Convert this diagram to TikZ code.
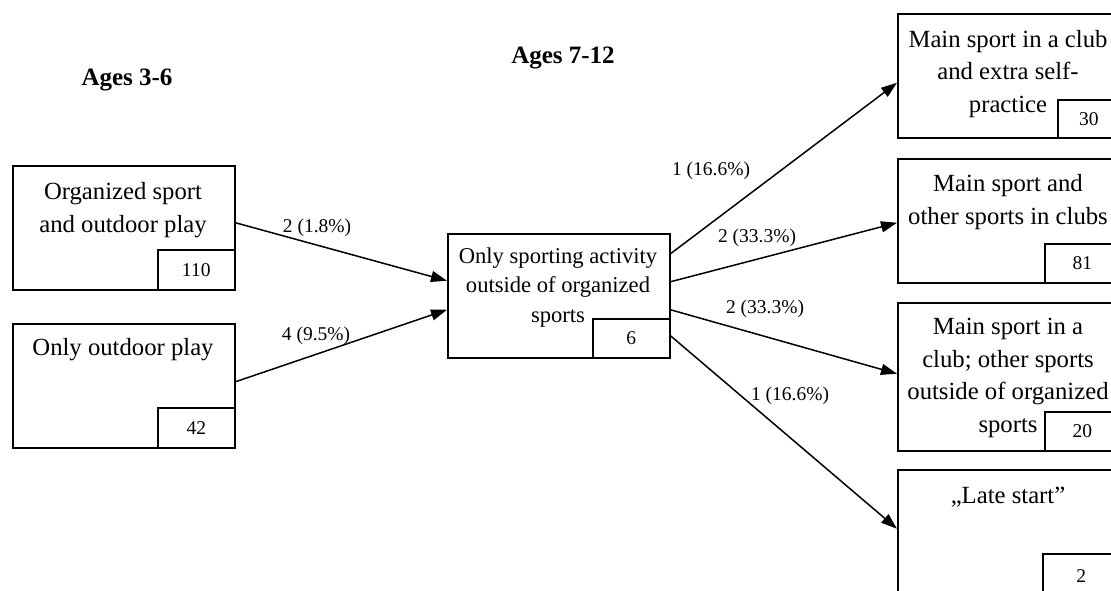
\documentclass[tikz,border=0pt]{standalone}
\usepackage{fontspec}
\setmainfont{Liberation Serif}
\usetikzlibrary{arrows.meta,calc}
\begin{document}
\begin{tikzpicture}[x=1pt,y=-1pt,
  box/.style={draw, line width=1.5pt, inner sep=0pt, anchor=north west, minimum width=222pt, minimum height=124pt},
  numbox/.style={draw, line width=1.5pt, inner sep=0pt, anchor=north west, font=\fontsize{19.5}{22}\selectfont},
  bigtxt/.style={align=center, anchor=base, inner sep=0pt, font=\fontsize{24.7}{32.5}\selectfont},
  midtxt/.style={align=center, anchor=base, inner sep=0pt, font=\fontsize{22.6}{29.5}\selectfont},
  lbl/.style={anchor=base, inner sep=0pt, font=\fontsize{19.5}{22}\selectfont},
  ttl/.style={anchor=base, inner sep=0pt, font=\bfseries\fontsize{25}{28}\selectfont},
  conn/.style={line width=1.5pt, -{Triangle[length=16pt,width=11pt]}}
]
\useasboundingbox (0,0) rectangle (1111,590);
\clip (0,0) rectangle (1111,590);

% titles
\node[ttl] (t1) at (127,85) {Ages 3-6};
\node[ttl] (t2) at (563,63) {Ages 7-12};

% left boxes
\node[box] (A) at (12,165) {};
\node[numbox, minimum width=77pt, minimum height=40pt] (An) at (157,249) {110};
\node[bigtxt] (At) at (123,232) {Organized sport\\and outdoor play};

\node[box] (B) at (12,323) {};
\node[numbox, minimum width=77pt, minimum height=40pt] (Bn) at (157,407) {42};
\node[bigtxt] (Bt) at (123,355) {Only outdoor play};

% center box
\node[box] (C) at (447,233) {};
\node[numbox, minimum width=77pt, minimum height=39pt] (Cn) at (592,318) {6};
\node[midtxt] (Ct) at (558,322) {Only sporting activity\\outside of organized\\sports};

% right boxes
\node[box] (R1) at (897,13) {};
\node[numbox, minimum width=62pt, minimum height=38pt] (R1n) at (1057,99) {30};
\node[bigtxt] (R1t) at (1008,112) {Main sport in a club\\and extra self-\\practice};

\node[box] (R2) at (897,158) {};
\node[numbox, minimum width=75pt, minimum height=39pt] (R2n) at (1044,243) {81};
\node[bigtxt] (R2t) at (1008,224) {Main sport and\\other sports in clubs};

\node[box, minimum height=148pt] (R3) at (897,302) {};
\node[numbox, minimum width=75pt, minimum height=39pt] (R3n) at (1044,411) {20};
\node[bigtxt] (R3t) at (1008,432) {Main sport in a\\club; other sports\\outside of organized\\sports};

\node[box] (R4) at (897,469) {};
\node[numbox, minimum width=77pt, minimum height=44pt] (R4n) at (1042,553) {2};
\node[bigtxt] (R4t) at (1008,503) {„Late start”};

% connectors
\draw[conn] ([yshift=5pt]A.east) -- ([yshift=15pt]C.west);
\draw[conn] ([yshift=4pt]B.east) -- ([yshift=-14pt]C.west);
\draw[conn] ([yshift=42pt]C.east) -- ([yshift=-7pt]R1.west);
\draw[conn] ([yshift=14pt]C.east) -- ([yshift=-2pt]R2.west);
\draw[conn] ([yshift=-14pt]C.east) -- ([yshift=3pt]R3.west);
\draw[conn] ([yshift=-40pt]C.east) -- ([yshift=3pt]R4.west);

% edge labels
\node[lbl] (l1) at (317,232) {2 (1.8\%)};
\node[lbl] (l2) at (316,340) {4 (9.5\%)};
\node[lbl] (l3) at (711,175) {1 (16.6\%)};
\node[lbl] (l4) at (757,242) {2 (33.3\%)};
\node[lbl] (l5) at (765,313) {2 (33.3\%)};
\node[lbl] (l6) at (790,400) {1 (16.6\%)};
\end{tikzpicture}
\end{document}
